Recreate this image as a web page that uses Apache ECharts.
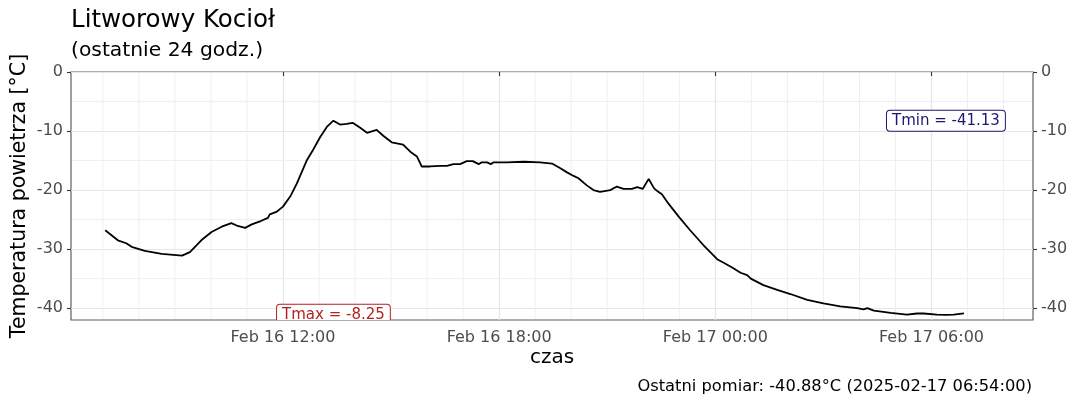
<!DOCTYPE html>
<html><head><meta charset="utf-8">
<script src="https://cdn.jsdelivr.net/npm/echarts@6/dist/echarts.min.js"></script>
<style>html,body{margin:0;padding:0;background:#fff}#c{width:1080px;height:405px}</style>
</head><body><div id="c"></div>
<script>
// ---- data ----
const times = [
 '2025-02-16 07:04','2025-02-16 07:25','2025-02-16 07:39','2025-02-16 07:48','2025-02-16 08:10','2025-02-16 08:38',
 '2025-02-16 09:12','2025-02-16 09:25','2025-02-16 09:44','2025-02-16 10:01','2025-02-16 10:18','2025-02-16 10:34',
 '2025-02-16 10:43','2025-02-16 10:57','2025-02-16 11:08','2025-02-16 11:24','2025-02-16 11:35','2025-02-16 11:38',
 '2025-02-16 11:49','2025-02-16 12:00','2025-02-16 12:12','2025-02-16 12:23','2025-02-16 12:40','2025-02-16 12:50',
 '2025-02-16 13:02','2025-02-16 13:13','2025-02-16 13:24','2025-02-16 13:35','2025-02-16 13:46','2025-02-16 13:56',
 '2025-02-16 14:08','2025-02-16 14:20','2025-02-16 14:36','2025-02-16 14:47','2025-02-16 15:01','2025-02-16 15:20',
 '2025-02-16 15:32','2025-02-16 15:43','2025-02-16 15:51','2025-02-16 16:05','2025-02-16 16:22','2025-02-16 16:33',
 '2025-02-16 16:44','2025-02-16 16:55','2025-02-16 17:06','2025-02-16 17:16','2025-02-16 17:26','2025-02-16 17:31',
 '2025-02-16 17:40','2025-02-16 17:46','2025-02-16 17:51','2025-02-16 18:13','2025-02-16 18:41','2025-02-16 19:08',
 '2025-02-16 19:28','2025-02-16 19:42','2025-02-16 19:53','2025-02-16 20:04','2025-02-16 20:12','2025-02-16 20:26',
 '2025-02-16 20:37','2025-02-16 20:48','2025-02-16 21:05','2025-02-16 21:16','2025-02-16 21:27','2025-02-16 21:41',
 '2025-02-16 21:50','2025-02-16 21:59','2025-02-16 22:09','2025-02-16 22:18','2025-02-16 22:25','2025-02-16 22:31',
 '2025-02-16 22:42','2025-02-16 22:59','2025-02-16 23:18','2025-02-16 23:40','2025-02-17 00:03','2025-02-17 00:14',
 '2025-02-17 00:28','2025-02-17 00:42','2025-02-17 00:53','2025-02-17 00:59','2025-02-17 01:20','2025-02-17 01:43',
 '2025-02-17 02:05','2025-02-17 02:33','2025-02-17 03:00','2025-02-17 03:28','2025-02-17 03:56','2025-02-17 04:07',
 '2025-02-17 04:13','2025-02-17 04:24','2025-02-17 04:52','2025-02-17 05:19','2025-02-17 05:36','2025-02-17 05:47',
 '2025-02-17 06:09','2025-02-17 06:24','2025-02-17 06:37','2025-02-17 06:54'
];
const temps = [
 -26.8,-28.5,-29.0,-29.6,-30.3,-30.8,
 -31.1,-30.5,-28.5,-27.1,-26.2,-25.6,
 -26.0,-26.4,-25.8,-25.2,-24.7,-24.1,
 -23.7,-22.8,-21.1,-18.9,-14.9,-13.2,
 -11.0,-9.3,-8.25,-8.9,-8.8,-8.6,
 -9.4,-10.3,-9.8,-10.8,-11.9,-12.3,
 -13.5,-14.3,-16.0,-16.0,-15.9,-15.9,
 -15.6,-15.6,-15.1,-15.1,-15.6,-15.3,
 -15.3,-15.6,-15.3,-15.3,-15.2,-15.3,
 -15.5,-16.3,-17.0,-17.6,-18.0,-19.2,
 -20.0,-20.3,-20.0,-19.4,-19.8,-19.8,
 -19.5,-19.8,-18.1,-19.7,-20.3,-20.7,
 -22.3,-24.5,-26.8,-29.3,-31.7,-32.3,
 -33.1,-34.0,-34.4,-35.0,-36.1,-36.9,
 -37.6,-38.6,-39.2,-39.7,-40.0,-40.2,
 -40.0,-40.4,-40.8,-41.1,-40.9,-40.9,
 -41.1,-41.13,-41.1,-40.88
];
const xMajorTicks = ['2025-02-16 12:00','2025-02-16 18:00','2025-02-17 00:00','2025-02-17 06:00'];
const xRange = ['2025-02-16 06:07','2025-02-17 08:49'];
const yMajorTicks = [-40,-30,-20,-10,0];
const yMinorTicks = [-35,-25,-15,-5];
const yRange = [-42,0];
const titleText = 'Litworowy Kocioł';
const subtitleText = '(ostatnie 24 godz.)';
const yName = 'Temperatura powietrza [°C]';
const xName = 'czas';

// ---- helpers ----
const ts = s => Date.parse(s.replace(' ', 'T') + ':00Z');
const pad = n => String(n).padStart(2, '0');
const MON = ['Jan','Feb','Mar','Apr','May','Jun','Jul','Aug','Sep','Oct','Nov','Dec'];
const fmtTick = v => { const d = new Date(v); return MON[d.getUTCMonth()] + ' ' + d.getUTCDate() + ' ' + pad(d.getUTCHours()) + ':' + pad(d.getUTCMinutes()); };
const fmtFull = s => s + ':00';

const xMin = ts(xRange[0]), xMax = ts(xRange[1]);
const majorX = xMajorTicks.map(ts);
const hourMinor = [];
for (let t = Math.ceil(xMin / 3600000) * 3600000; t < xMax; t += 3600000) {
  if (majorX.indexOf(t) < 0) hourMinor.push(t);
}

const seriesData = times.map((t, i) => [ts(t), temps[i]]);
const tmax = Math.max(...temps), tmin = Math.min(...temps);
const tmaxAt = ts(times[temps.indexOf(tmax)]);
const tminAt = ts(times[temps.indexOf(tmin)]);
const annotations = [
  { x: tmaxAt, y: tmin, text: 'Tmax = ' + tmax.toFixed(2), color: '#B22222' },
  { x: tminAt, y: tmax, text: 'Tmin = ' + tmin.toFixed(2), color: '#191970' }
];
const last = temps.length - 1;
const captionText = 'Ostatni pomiar: ' + temps[last].toFixed(2) + '°C (' + fmtFull(times[last]) + ')';

const FONT = 'DejaVu Sans';
const TICKCOL = '#4d4d4d';
const MAJOR = { color: '#e6e6e6', width: 1.2 };
const MINOR_COLOR = '#efefef', MINOR_WIDTH = 1;

const chart = echarts.init(document.getElementById('c'), null, { renderer: 'canvas' });
chart.setOption({
  animation: false,
  backgroundColor: '#ffffff',
  textStyle: { fontFamily: FONT },
  title: [
    { text: titleText, left: 66, top: 3, textStyle: { fontFamily: FONT, fontSize: 24.5, fontWeight: 'normal', color: '#000' } },
    { text: subtitleText, left: 66, top: 36, textStyle: { fontFamily: FONT, fontSize: 20.3, fontWeight: 'normal', color: '#000' } },
    { text: captionText, right: 43, top: 374, textStyle: { fontFamily: FONT, fontSize: 16.3, fontWeight: 'normal', color: '#000' } }
  ],
  grid: { left: 71, right: 47, top: 72, bottom: 85, containLabel: false, outerBoundsMode: 'none',
    show: true, borderColor: '#5f5f5f', borderWidth: 1.2, backgroundColor: 'transparent' },
  xAxis: [
    { type: 'value', position: 'bottom', min: xMin, max: xMax,
      axisLine: { show: false },
      axisTick: { show: true, customValues: majorX, length: 4, lineStyle: { color: '#333', width: 1.1 } },
      axisLabel: { show: true, customValues: majorX, formatter: fmtTick, margin: 10,
        fontFamily: FONT, fontSize: 16, color: TICKCOL },
      splitLine: { show: true, lineStyle: MAJOR },
      name: xName, nameLocation: 'middle', nameGap: 28, nameMoveOverlap: false,
      nameTextStyle: { fontFamily: FONT, fontSize: 20, color: '#000' } }
  ],
  yAxis: [
    { type: 'value', position: 'left', min: yRange[0], max: yRange[1],
      axisLine: { show: false },
      axisTick: { show: true, customValues: yMajorTicks, length: 4, lineStyle: { color: '#333', width: 1.1 } },
      axisLabel: { show: true, customValues: yMajorTicks, margin: 8, fontFamily: FONT, fontSize: 16, color: TICKCOL },
      splitLine: { show: true, lineStyle: MAJOR },
      name: yName, nameLocation: 'middle', nameGap: 41, nameRotate: 90, nameMoveOverlap: false,
      nameTextStyle: { fontFamily: FONT, fontSize: 20.5, color: '#000' } },
    { type: 'value', position: 'right', min: yRange[0], max: yRange[1],
      axisLine: { show: false },
      axisTick: { show: true, customValues: yMajorTicks, length: 4, lineStyle: { color: '#333', width: 1.1 } },
      axisLabel: { show: true, customValues: yMajorTicks, margin: 8, fontFamily: FONT, fontSize: 16, color: TICKCOL },
      splitLine: { show: false } }
  ],
  series: [
    { type: 'custom', name: 'minor-v', xAxisIndex: 0, yAxisIndex: 0, z: 1, silent: true, clip: true,
      data: hourMinor.map(t => [t]),
      renderItem: (params, api) => {
        const a = api.coord([api.value(0), yRange[0]]);
        const b = api.coord([api.value(0), yRange[1]]);
        return { type: 'line', shape: { x1: a[0], y1: a[1] - 1, x2: b[0], y2: b[1] + 1 },
          style: { stroke: MINOR_COLOR, lineWidth: MINOR_WIDTH } };
      } },
    { type: 'custom', name: 'minor-h', xAxisIndex: 0, yAxisIndex: 0, z: 1, silent: true, clip: true,
      data: yMinorTicks.map(v => [xMin, v]),
      renderItem: (params, api) => {
        const a = api.coord([xMin, api.value(1)]);
        const b = api.coord([xMax, api.value(1)]);
        return { type: 'line', shape: { x1: a[0] + 1, y1: a[1], x2: b[0] - 1, y2: b[1] },
          style: { stroke: MINOR_COLOR, lineWidth: MINOR_WIDTH } };
      } },
    { type: 'line', xAxisIndex: 0, yAxisIndex: 0, data: seriesData, showSymbol: false, symbol: 'none',
      lineStyle: { color: '#000', width: 1.8 }, z: 3, clip: true },
    { type: 'custom', xAxisIndex: 0, yAxisIndex: 0, clip: true, z: 4,
      data: annotations.map(a => [a.x, a.y]),
      renderItem: (params, api) => {
        const a = annotations[params.dataIndex];
        const p = api.coord([api.value(0), api.value(1)]);
        return { type: 'text', x: p[0], y: p[1], style: {
          text: a.text, fill: a.color, font: '15px "DejaVu Sans"', align: 'center', verticalAlign: 'middle',
          backgroundColor: '#fff', borderColor: a.color, borderWidth: 1, borderRadius: 3, padding: [3, 5, 2, 5] } };
      } }
  ]
});
</script></body></html>
